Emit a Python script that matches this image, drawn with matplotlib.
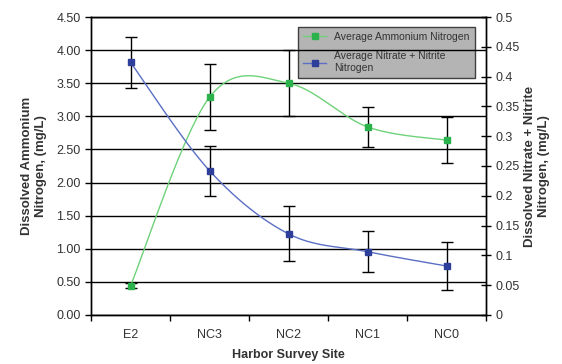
import numpy as np
import matplotlib
matplotlib.use('Agg')
import matplotlib.pyplot as plt
from matplotlib.ticker import FixedLocator, FuncFormatter

plt.rcParams['font.family'] = ['Liberation Sans', 'DejaVu Sans']

# Survey sites and measured averages with error bars
sites = ['E2', 'NC3', 'NC2', 'NC1', 'NC0']
ammonium = [0.44, 3.29, 3.50, 2.84, 2.64]
ammonium_err = [0.04, 0.50, 0.50, 0.30, 0.35]
nitrate = [0.424, 0.242, 0.136, 0.106, 0.082]
nitrate_err = [0.043, 0.042, 0.046, 0.034, 0.041]


def smooth(x, y, n=40):
    # Bezier smoothing through every point (Catmull-Rom style control points)
    x = np.asarray(x, float)
    y = np.asarray(y, float)
    px = np.concatenate([[x[0]], x, [x[-1]]])
    py = np.concatenate([[y[0]], y, [y[-1]]])
    t = np.linspace(0, 1, n)
    xs, ys = [], []
    for i in range(1, len(px) - 2):
        p0 = np.array([px[i], py[i]])
        p3 = np.array([px[i + 1], py[i + 1]])
        c1 = p0 + (np.array([px[i + 1], py[i + 1]]) - np.array([px[i - 1], py[i - 1]])) / 6
        c2 = p3 - (np.array([px[i + 2], py[i + 2]]) - np.array([px[i], py[i]])) / 6
        pts = ((1 - t) ** 3)[:, None] * p0 + (3 * (1 - t) ** 2 * t)[:, None] * c1 \
            + (3 * (1 - t) * t ** 2)[:, None] * c2 + (t ** 3)[:, None] * p3
        xs.append(pts[:, 0])
        ys.append(pts[:, 1])
    return np.concatenate(xs), np.concatenate(ys)


x = np.arange(len(sites))

fig = plt.figure(figsize=(5.62, 3.64), dpi=100)
ax1 = fig.add_axes([0.162, 0.135, 0.703, 0.818])
ax2 = ax1.twinx()

green = '#2bb24c'
green_line = '#6fd27a'
blue = '#2d3f9a'
blue_line = '#5b6fc4'

# ammonium on the left axis
sx, sy = smooth(x, ammonium)
ax1.plot(sx, sy, color=green_line, lw=1, zorder=3)
ax1.errorbar(x, ammonium, yerr=ammonium_err, fmt='none', ecolor='black',
             elinewidth=1, capsize=4, capthick=1, zorder=4)
ax1.plot(x, ammonium, 's', color=green, ms=4.5, zorder=5)

# nitrate + nitrite on the right axis
sx, sy = smooth(x, nitrate)
ax2.plot(sx, sy, color=blue_line, lw=1, zorder=3)
ax2.errorbar(x, nitrate, yerr=nitrate_err, fmt='none', ecolor='black',
             elinewidth=1, capsize=4, capthick=1, zorder=4)
ax2.plot(x, nitrate, 's', color=blue, ms=4.5, zorder=5)

ax1.set_xlim(-0.5, len(sites) - 0.5)
ax1.set_ylim(0, 4.5)
ax2.set_ylim(0, 0.5)

ax1.set_yticks(np.arange(0, 4.51, 0.5))
ax1.yaxis.set_major_formatter(FuncFormatter(lambda v, p: f'{v:.2f}'))
ax2.set_yticks(np.arange(0, 0.501, 0.05))
ax2.yaxis.set_major_formatter(FuncFormatter(lambda v, p: f'{v:g}'))

ax1.xaxis.set_major_locator(FixedLocator(np.arange(-0.5, len(sites), 1.0)))
ax1.xaxis.set_minor_locator(FixedLocator(x))
ax1.set_xticklabels([])
ax1.set_xticklabels(sites, minor=True)
ax1.tick_params(axis='x', which='major', direction='out', length=4, width=1)
ax1.tick_params(axis='x', which='minor', length=0, pad=10, labelsize=9, labelcolor='#333333')
ax1.tick_params(axis='y', direction='out', length=4, width=1, labelsize=9, labelcolor='#333333')
ax2.tick_params(axis='y', direction='inout', length=7, width=1, labelsize=9, labelcolor='#333333')

ax1.grid(axis='y', color='black', lw=1)
ax1.set_axisbelow(False)
for ax in (ax1, ax2):
    for s in ax.spines.values():
        s.set_linewidth(1)
        s.set_color('black')

ax1.set_xlabel('Harbor Survey Site', fontsize=9, fontweight='bold', color='#333333', labelpad=6)
ax1.set_ylabel('Dissolved Ammonium\nNitrogen, (mg/L)', fontsize=9.5, fontweight='bold',
               color='#333333', labelpad=7)
ax2.set_ylabel('Dissolved Nitrate + Nitrite\nNitrogen, (mg/L)', fontsize=9.5, fontweight='bold',
               color='#333333', rotation=90, labelpad=3)

# legend sits under the gridlines, on the left-axis layer
h1, = ax1.plot([], [], '-s', color=green_line, mfc=green, mec=green, ms=4.5, lw=1)
h2, = ax1.plot([], [], '-s', color=blue_line, mfc=blue, mec=blue, ms=4.5, lw=1)
leg = ax1.legend([h1, h2], ['Average Ammonium Nitrogen', 'Average Nitrate + Nitrite\nNitrogen'],
                 loc='upper right', bbox_to_anchor=(0.985, 0.985), fontsize=7.5,
                 fancybox=False, framealpha=1, facecolor='#b4b4b4', edgecolor='#404040',
                 handlelength=2.2, borderpad=0.5, labelspacing=0.9)
leg.set_zorder(1)
for t in leg.get_texts():
    t.set_color('#333333')

fig.savefig('out.png', dpi=100)
